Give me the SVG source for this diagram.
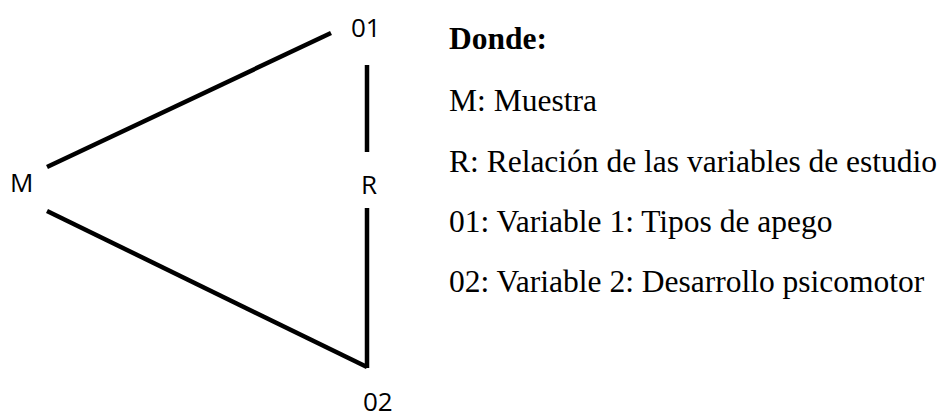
<svg xmlns="http://www.w3.org/2000/svg" width="947" height="415" viewBox="0 0 947 415">
<style>
.lbl{font-family:"Open Sans","Noto Sans",sans-serif;font-size:26px;fill:#000}
.leg{font-family:"Liberation Serif","Times New Roman",serif;font-size:31.5px;fill:#000}
.conn line{stroke:#000;stroke-width:4.5;fill:none}
</style>
<rect width="947" height="415" fill="#fff"/>
<g id="connectors" class="conn">
<line x1="47" y1="167" x2="331" y2="33"/>
<line x1="367" y1="65" x2="367" y2="152"/>
<line x1="367" y1="208" x2="367" y2="368"/>
<line x1="47" y1="211" x2="367" y2="367"/>
</g>
<g id="node-M"><text class="lbl" x="10" y="192">M</text></g>
<g id="node-01"><text class="lbl" x="351" y="37">01</text></g>
<g id="node-R"><text class="lbl" x="361" y="194">R</text></g>
<g id="node-02"><text class="lbl" x="363" y="411">02</text></g>
<g id="legend">
<text class="leg" x="449" y="49" font-weight="bold">Donde:</text>
<text class="leg" x="449" y="111">M: Muestra</text>
<text class="leg" x="449" y="172">R: Relación de las variables de estudio</text>
<text class="leg" x="449" y="232">01: Variable 1: Tipos de apego</text>
<text class="leg" x="449" y="292">02: Variable 2: Desarrollo psicomotor</text>
</g>
</svg>
